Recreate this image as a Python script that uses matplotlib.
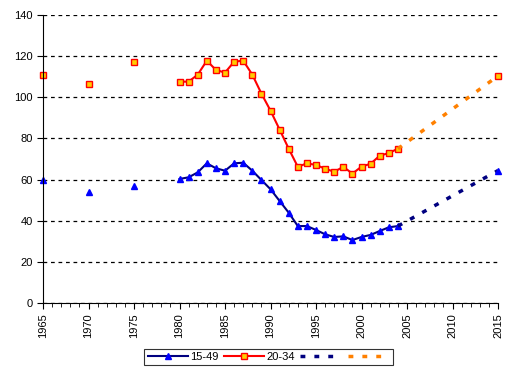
import numpy as np
import matplotlib.pyplot as plt
from matplotlib.ticker import MultipleLocator

plt.rcParams['font.family'] = ['Liberation Sans', 'DejaVu Sans']

# early isolated points
early_years = [1965, 1970, 1975]
early_1549 = [59.6, 53.8, 56.9]
early_2034 = [111.0, 106.6, 117.2]

# continuous series 1980-2004
years = list(range(1980, 2005))
s_1549 = [60.3, 61.1, 63.5, 67.9, 65.5, 64.3, 67.9, 68.2, 64.3, 59.8,
          55.3, 49.6, 43.9, 37.4, 37.4, 35.5, 33.4, 32.1, 32.4, 30.6,
          32.1, 33.1, 35.0, 36.8, 37.4]
s_2034 = [107.6, 107.6, 111.0, 117.8, 113.3, 112.0, 117.3, 117.8, 111.0, 101.8,
          93.5, 84.3, 75.0, 66.2, 67.9, 67.1, 65.3, 63.8, 66.2, 62.9,
          66.3, 67.7, 71.6, 72.9, 75.0]

# projections
proj_years = [2004, 2015]
proj_1549 = [37.4, 64.4]
proj_2034 = [75.0, 110.4]

fig = plt.figure(figsize=(5.14, 3.78), dpi=100)
ax = fig.add_axes([0.0837, 0.1984, 0.8852, 0.7619])

tri = dict(marker='^', ms=5, mfc='#0000FF', mec='#0000FF', clip_on=False)
sq = dict(marker='s', ms=4.5, mfc='#FFCC00', mec='#FF0000', mew=1, clip_on=False)
dash = (0, (1.4, 2.6))

l1, = ax.plot(years, s_1549, color='#000080', lw=1.5, **tri)
l2, = ax.plot(years, s_2034, color='#FF0000', lw=1.5, **sq)
ax.plot(early_years, early_1549, ls='none', **tri)
ax.plot(early_years, early_2034, ls='none', **sq)

l3, = ax.plot(proj_years, proj_1549, color='#000080', lw=2.5, ls=dash)
l4, = ax.plot(proj_years, proj_2034, color='#FF8000', lw=2.5, ls=dash)
ax.plot(proj_years[-1:], proj_1549[-1:], ls='none', **tri)
ax.plot(proj_years[-1:], proj_2034[-1:], ls='none', **sq)

ax.set_xlim(1965, 2015)
ax.set_ylim(0, 140)
ax.xaxis.set_major_locator(MultipleLocator(5))
ax.xaxis.set_minor_locator(MultipleLocator(1))
ax.yaxis.set_major_locator(MultipleLocator(20))
ax.tick_params(axis='x', which='major', labelrotation=90, labelsize=8,
               length=4, direction='out')
ax.tick_params(axis='x', which='minor', length=3, direction='out')
ax.tick_params(axis='y', labelsize=8, length=4, direction='out')

ax.yaxis.grid(True, color='black', ls=(0, (3, 3)), lw=0.9)
ax.set_axisbelow(True)
for s in ['top', 'right']:
    ax.spines[s].set_visible(False)

leg = fig.legend([l1, l2, l3, l4], ['15-49', '20-34', '', ''],
                 loc='center', bbox_to_anchor=(0.523, 0.0555), ncol=4,
                 fontsize=8, frameon=True, fancybox=False,
                 edgecolor='black', handlelength=3.6, handletextpad=0.2,
                 columnspacing=0.5, borderpad=0.3)
leg.get_frame().set_linewidth(0.8)

fig.savefig('out.png', dpi=100)
